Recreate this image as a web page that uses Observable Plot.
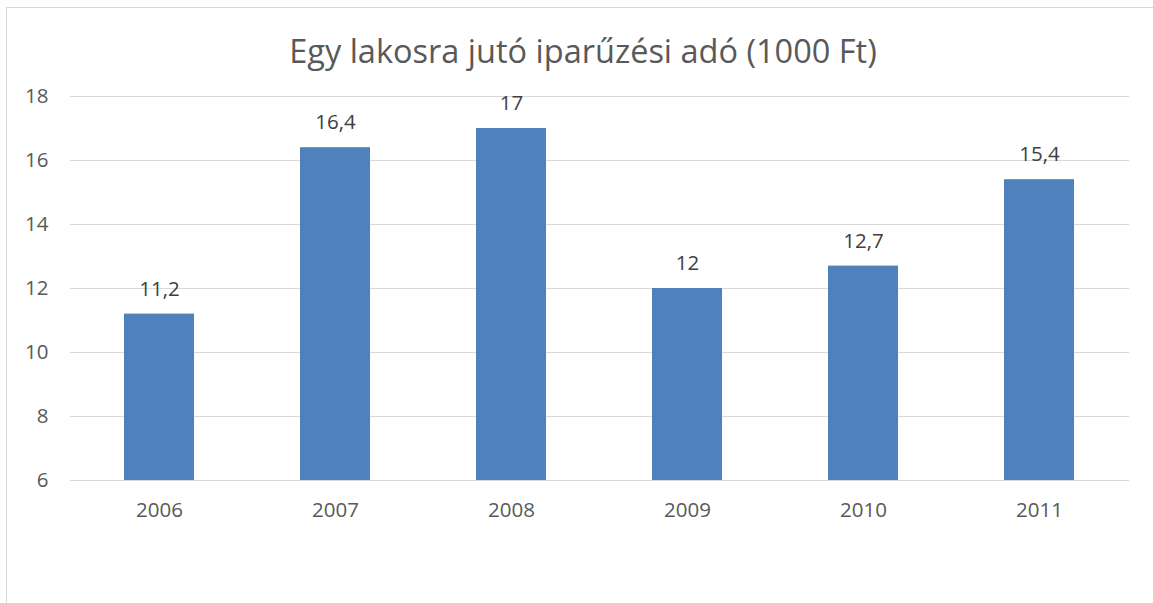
<!DOCTYPE html>
<html>
<head>
<meta charset="utf-8">
<script src="https://cdn.jsdelivr.net/npm/d3@7"></script>
<script src="https://cdn.jsdelivr.net/npm/@observablehq/plot@0.6"></script>
<style>
  html, body { margin: 0; padding: 0; background: #fff; }
  #wrap { position: relative; width: 1153px; height: 603px; overflow: hidden; font-family: "Open Sans", sans-serif; }
  #border { position: absolute; left: 6px; top: 7px; width: 1200px; height: 700px; border-left: 1px solid #d9d9d9; border-top: 1px solid #d9d9d9; }
  #title { position: absolute; left: 0; top: 28px; width: 1166px; text-align: center; font-size: 32.5px; color: #595959; font-weight: 400; }
  #chart { position: absolute; left: 0; top: 0; }
</style>
</head>
<body>
<div id="wrap">
  <div id="border"></div>
  <div id="chart"></div>
  <div id="title">Egy lakosra jutó iparűzési adó (1000 Ft)</div>
</div>
<script>
const years = ["2006", "2007", "2008", "2009", "2010", "2011"];
const values = [11.2, 16.4, 17, 12, 12.7, 15.4];
const yTicks = [6, 8, 10, 12, 14, 16, 18];

const data = years.map((y, i) => ({year: y, value: values[i]}));
const fmt = v => String(v).replace(".", ",");

const chart = Plot.plot({
  width: 1153,
  height: 603,
  marginTop: 96,
  marginBottom: 123,
  marginLeft: 70,
  marginRight: 24,
  style: {fontFamily: "Open Sans, sans-serif", fontSize: "20.5px", color: "#595959", background: "transparent", overflow: "visible"},
  x: {domain: years, paddingInner: 0.6, paddingOuter: 0.3, label: null, tickSize: 0, tickPadding: 22},
  y: {domain: [6, 18], ticks: yTicks, label: null, tickSize: 0, tickPadding: 22},
  marks: [
    Plot.gridY(yTicks, {stroke: "#d9d9d9", strokeOpacity: 1, strokeWidth: 1.2}),
    Plot.barY(data, {x: "year", y: "value", fill: "#4f81bd", clip: "frame"}),
    Plot.text(data, {x: "year", y: "value", text: d => fmt(d.value), dy: -25, fill: "#404040", fontSize: 20.5}),
    Plot.axisX({tickSize: 0, tickPadding: 22, fill: "#595959", fontSize: 20.5}),
    Plot.axisY({ticks: yTicks, tickSize: 0, tickPadding: 22, fill: "#595959", fontSize: 20.5})
  ]
});
document.getElementById("chart").appendChild(chart);
</script>
</body>
</html>
